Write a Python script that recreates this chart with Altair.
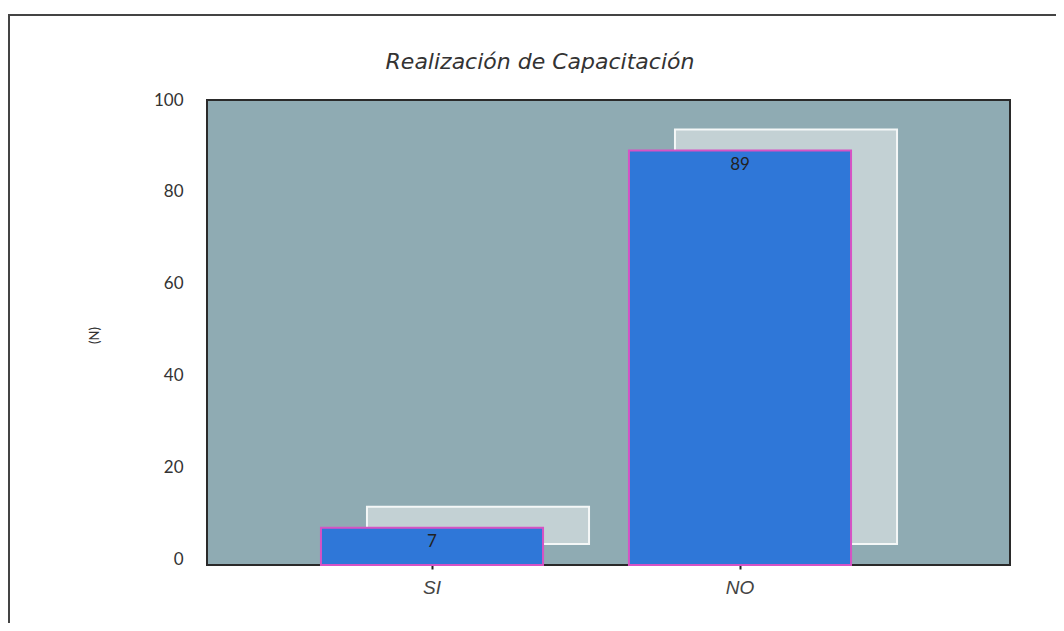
import altair as alt
import pandas as pd

categories = ["SI", "NO"]
values = [7, 89]
y_ticks = [0, 20, 40, 60, 80, 100]
y_min, y_max = -1.1, 100
title_text = "Realización de Capacitación"
y_title = "(N)"

df = pd.DataFrame({"cat": categories, "val": values})

W, H = 803, 465

x_scale = alt.Scale(domain=categories, range=[71, 687], paddingInner=0.279, paddingOuter=0.1395)
y_scale = alt.Scale(domain=[y_min, y_max], nice=False, zero=False)

x_enc = alt.X("cat:N", scale=x_scale, sort=categories,
              axis=alt.Axis(title=None, labelAngle=0, labelFontSize=19, labelFontStyle="italic",
                            labelFont="Liberation Sans", labelColor="#444", labelPadding=9,
                            tickSize=4, tickColor="#222", tickWidth=2, domain=False))
y_enc = alt.Y("val:Q", scale=y_scale,
              axis=alt.Axis(values=y_ticks, title=y_title, grid=False, ticks=False, domain=False,
                            labelFontSize=17, labelFont="Lato", labelColor="#333", labelPadding=24,
                            titleFontSize=13, titleFont="Lato", titleFontWeight="normal",
                            titleColor="#333", titleX=-106, titleY=235, titleAngle=270))

base = alt.Chart(df)

frame = alt.Chart(pd.DataFrame({"f": [1]})).mark_rect(
    fill=None, stroke="#444", strokeWidth=2
).encode(x=alt.value(-198), x2=alt.value(852), y=alt.value(-85), y2=alt.value(600))

title = alt.Chart(pd.DataFrame({"t": [title_text]})).mark_text(
    font="DejaVu Sans", fontSize=22, fontStyle="italic", color="#333", align="center", baseline="middle"
).encode(x=alt.value(333), y=alt.value(-38), text="t:N")

shadow = base.mark_bar(fill="#c3d1d4", stroke="#f4f7f7", strokeWidth=2,
                       xOffset=46, yOffset=-21, y2Offset=-21).encode(
    x=x_enc, y=y_enc, y2=alt.Y2(datum=y_min)
)

bars = base.mark_bar(fill="#2f77d8", stroke="#d653c4", strokeWidth=2).encode(
    x=alt.X("cat:N", scale=x_scale, sort=categories),
    y=alt.Y("val:Q", scale=y_scale),
    y2=alt.Y2(datum=y_min)
)

labels = base.mark_text(baseline="top", dy=6, fontSize=17, font="Lato", color="#222").encode(
    x=alt.X("cat:N", scale=x_scale, sort=categories),
    y=alt.Y("val:Q", scale=y_scale),
    text="val:Q"
)

chart = alt.layer(frame, title, shadow, bars, labels).properties(
    width=W, height=H,
    padding={"left": 199, "top": 92, "right": 46, "bottom": 58},
    autosize=alt.AutoSizeParams(type="none"),
).configure(background="white").configure_view(
    fill="#8fabb3", stroke="#2a2a2a", strokeWidth=2
)

chart.save("out.html", embed_options={"renderer": "svg", "actions": False})
